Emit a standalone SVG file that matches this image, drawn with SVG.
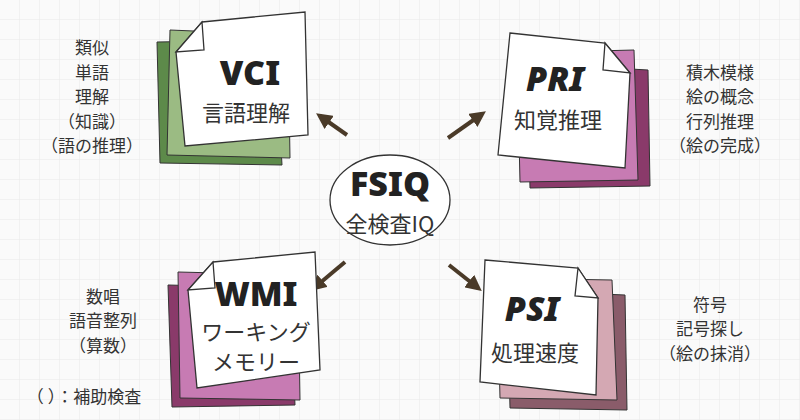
<svg xmlns="http://www.w3.org/2000/svg" width="800" height="420" viewBox="0 0 800 420">
<defs>
<pattern id="grid" width="20" height="20" patternUnits="userSpaceOnUse"><path d="M20 0V20H0" fill="none" stroke="#e8e8e8" stroke-width="1"/></pattern>
<marker id="ah" viewBox="0 0 10 10" refX="7" refY="5" markerWidth="4" markerHeight="4" orient="auto"><path d="M0 0L10 5L0 10Z" fill="#4a3a28"/></marker>
<style>
.w{fill:#fff;stroke:#333;stroke-width:1.3}
.s{stroke:#333;stroke-width:1}
.t{font-family:"Noto Sans","Liberation Sans",sans-serif;font-weight:900;font-size:34px;fill:#222;text-anchor:middle}
.j{font-family:"Noto Sans CJK JP",sans-serif;font-size:22px;fill:#333;text-anchor:middle}
.n{font-family:"Noto Sans CJK JP",sans-serif;font-size:17px;fill:#333;text-anchor:middle}
.c{stroke:#4a3a28;stroke-width:4;fill:none;marker-end:url(#ah)}
</style>
</defs>
<rect width="800" height="420" fill="#fafafa"/>
<rect width="800" height="420" fill="url(#grid)"/>
<g id="connectors">
<line class="c" x1="347" y1="135" x2="320" y2="116"/>
<line class="c" x1="448" y1="138" x2="482" y2="114"/>
<line class="c" x1="345" y1="262" x2="314" y2="288"/>
<line class="c" x1="449" y1="265" x2="478" y2="288"/>
</g>
<g id="fsiq">
<ellipse cx="390" cy="200" rx="60" ry="45" fill="#fff" stroke="#333" stroke-width="1.3"/>
<text x="390" y="196" class="t" font-size="30">FSIQ</text>
<text x="390" y="232" class="j">全検査IQ</text>
</g>
<g id="vci">
<polygon points="157,42 275,40 282,165 160,163" fill="#5d8a4a" class="s"/>
<polygon points="170,30 288,35 290,158 167,155" fill="#9bbb83" class="s"/>
<polygon class="w" points="202,22 305,12 308,135 185,146 176,52"/>
<polygon class="w" points="202,22 176,52 204,50"/>
<text x="250" y="85" class="t">VCI</text>
<text x="246" y="121" class="j">言語理解</text>
</g>
<g id="pri">
<polygon points="527,63 648,70 650,186 530,188" fill="#8a3a6a" class="s"/>
<polygon points="517,53 634,50 638,180 520,182" fill="#c77bb3" class="s"/>
<polygon class="w" points="510,33 605,43 630,73 625,168 498,155"/>
<polygon class="w" points="605,43 630,73 603,70"/>
<text x="555" y="91" class="t" font-style="italic">PRI</text>
<text x="558" y="128" class="j">知覚推理</text>
</g>
<g id="wmi">
<polygon points="168,285 290,288 295,405 172,407" fill="#8a3a6a" class="s"/>
<polygon points="178,272 298,275 300,400 180,398" fill="#c77bb3" class="s"/>
<polygon class="w" points="213,262 315,252 320,370 197,388 188,290"/>
<polygon class="w" points="213,262 188,290 215,288"/>
<text x="256" y="306" class="t" font-size="31">WMI</text>
<text x="256" y="340" class="j" font-size="19">ワーキング</text>
<text x="256" y="370" class="j" font-size="19">メモリー</text>
</g>
<g id="psi">
<polygon points="507,290 625,295 627,410 510,408" fill="#8a5c6a" class="s"/>
<polygon points="497,278 612,280 617,400 500,398" fill="#d4a8b3" class="s"/>
<polygon class="w" points="485,260 578,268 598,298 596,395 480,382"/>
<polygon class="w" points="578,268 598,298 575,296"/>
<text x="532" y="321" class="t" font-style="italic">PSI</text>
<text x="535" y="361" class="j">処理速度</text>
</g>
<g id="notes">
<text class="n" x="92" y="54">類似</text>
<text class="n" x="92" y="79">単語</text>
<text class="n" x="92" y="103">理解</text>
<text class="n" x="92" y="128">（知識）</text>
<text class="n" x="92" y="152">（語の推理）</text>
<text class="n" x="720" y="79">積木模様</text>
<text class="n" x="720" y="103">絵の概念</text>
<text class="n" x="720" y="128">行列推理</text>
<text class="n" x="720" y="152">（絵の完成）</text>
<text class="n" x="103" y="303">数唱</text>
<text class="n" x="103" y="327">語音整列</text>
<text class="n" x="103" y="352">（算数）</text>
<text class="n" x="710" y="311">符号</text>
<text class="n" x="710" y="335">記号探し</text>
<text class="n" x="710" y="360">（絵の抹消）</text>
<text class="n" x="84" y="403">（ ）：補助検査</text>
</g>
</svg>
